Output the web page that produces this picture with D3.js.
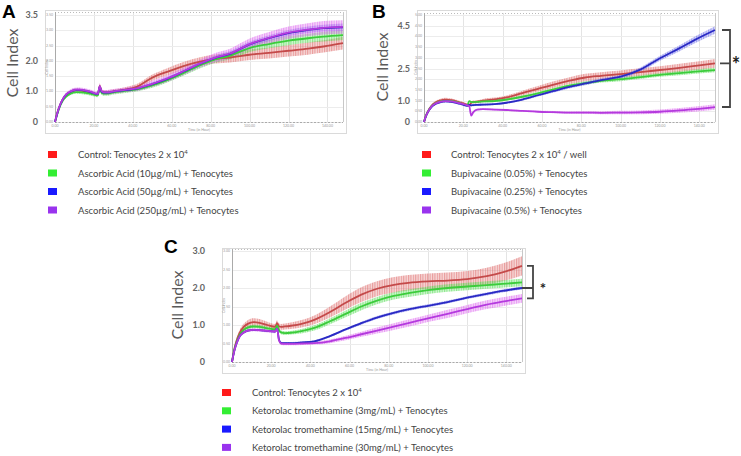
<!DOCTYPE html>
<meta charset="utf-8">
<head>
  <title>Cell index</title>
</head>
<style>
body { margin: 0; background: #fff; }
svg text { font-family: Lato, "Open Sans", sans-serif; }
.letter { font-family: "Liberation Sans", Arial, sans-serif; font-weight: bold; font-size: 19px; fill: #000; }
.ylab { font-size: 16px; fill: #5a5a5a; }
.big { font-size: 9px; font-weight: bold; fill: #666; }
.tiny { font-size: 3.5px; fill: #999; }
.leg { font-size: 9.5px; fill: #444; }
</style>
<body>
<svg width="741" height="456"></svg>
<script src="https://cdnjs.cloudflare.com/ajax/libs/d3/7.8.5/d3.min.js"></script>
<script>
// time points (hours)
var times = [0,1,2,4,6,8,11,14,18,22,23,24,25,27,30,36,42,50,58,66,74,82,90,100,110,120,130,138,148];

// panel A - ascorbic acid
var aControl = [0,0.26,0.46,0.74,0.9,0.98,1.04,1.02,0.97,0.9,1.18,1.0,0.97,0.97,1.0,1.06,1.15,1.45,1.65,1.83,1.97,2.06,2.11,2.2,2.26,2.33,2.4,2.47,2.58];
var aAsc10 = [0,0.22,0.42,0.7,0.85,0.93,0.98,0.97,0.93,0.87,1.1,0.95,0.93,0.93,0.97,1.02,1.07,1.2,1.38,1.6,1.84,2.04,2.17,2.42,2.55,2.66,2.74,2.79,2.84];
var aAsc50 = [0,0.24,0.45,0.74,0.91,0.99,1.05,1.04,0.98,0.91,1.16,0.99,0.96,0.96,0.99,1.04,1.09,1.24,1.42,1.65,1.89,2.09,2.23,2.54,2.74,2.91,3.01,3.07,3.1];
var aAsc250 = [0,0.25,0.46,0.75,0.92,1.0,1.06,1.05,0.99,0.92,1.17,1.0,0.97,0.97,1.0,1.05,1.1,1.25,1.43,1.66,1.9,2.1,2.24,2.55,2.75,2.92,3.02,3.08,3.11];
var aControlSd = [0,0.03,0.04,0.05,0.06,0.06,0.06,0.06,0.06,0.06,0.08,0.07,0.07,0.07,0.07,0.08,0.09,0.1,0.12,0.13,0.14,0.15,0.16,0.17,0.18,0.19,0.2,0.2,0.21];
var aAsc10Sd = [0,0.03,0.04,0.05,0.05,0.05,0.06,0.06,0.06,0.06,0.07,0.07,0.07,0.07,0.07,0.07,0.07,0.08,0.08,0.09,0.1,0.11,0.12,0.13,0.14,0.15,0.15,0.16,0.16];
var aAsc50Sd = [0,0.02,0.03,0.04,0.04,0.05,0.05,0.05,0.05,0.05,0.06,0.05,0.05,0.05,0.05,0.05,0.06,0.06,0.07,0.07,0.08,0.08,0.09,0.09,0.1,0.1,0.11,0.11,0.12];
var aAsc250Sd = [0,0.03,0.04,0.06,0.06,0.07,0.07,0.07,0.07,0.07,0.09,0.08,0.08,0.08,0.08,0.08,0.09,0.1,0.11,0.12,0.13,0.15,0.16,0.18,0.19,0.2,0.21,0.22,0.22];

// panel B - bupivacaine
var bControl = [0,0.3,0.5,0.78,0.92,1.0,1.05,1.02,0.92,0.8,0.76,0.9,0.93,0.95,1.0,1.06,1.15,1.35,1.55,1.75,1.93,2.08,2.16,2.24,2.33,2.43,2.53,2.62,2.74];
var bBup005 = [0,0.28,0.48,0.75,0.88,0.95,0.99,0.97,0.89,0.78,0.98,0.93,0.93,0.94,0.96,0.98,1.05,1.18,1.34,1.53,1.7,1.82,1.92,2.0,2.1,2.2,2.28,2.35,2.43];
var bBup025 = [0,0.27,0.46,0.72,0.85,0.92,0.96,0.94,0.86,0.76,0.8,0.78,0.79,0.8,0.81,0.84,0.9,1.05,1.25,1.45,1.64,1.8,1.96,2.12,2.45,2.98,3.45,3.85,4.3];
var bBup05 = [0,0.28,0.47,0.74,0.87,0.94,0.98,0.96,0.88,0.78,0.74,0.3,0.45,0.58,0.6,0.58,0.56,0.52,0.48,0.46,0.44,0.44,0.43,0.44,0.45,0.48,0.54,0.6,0.7];
var bControlSd = [0,0.03,0.05,0.06,0.07,0.08,0.08,0.08,0.07,0.06,0.06,0.07,0.07,0.07,0.08,0.08,0.09,0.11,0.13,0.15,0.16,0.17,0.17,0.17,0.18,0.18,0.19,0.19,0.2];
var bBup005Sd = [0,0.02,0.03,0.04,0.04,0.05,0.05,0.05,0.05,0.05,0.05,0.05,0.05,0.05,0.05,0.05,0.06,0.06,0.07,0.07,0.08,0.08,0.08,0.09,0.09,0.09,0.1,0.1,0.1];
var bBup025Sd = [0,0.02,0.03,0.04,0.04,0.05,0.05,0.05,0.05,0.05,0.05,0.05,0.05,0.05,0.05,0.05,0.05,0.06,0.06,0.07,0.07,0.08,0.08,0.09,0.1,0.12,0.14,0.16,0.18];
var bBup05Sd = [0,0.02,0.03,0.04,0.04,0.05,0.05,0.05,0.05,0.05,0.05,0.04,0.04,0.04,0.04,0.04,0.04,0.04,0.04,0.05,0.05,0.06,0.07,0.08,0.09,0.1,0.11,0.12,0.13];

// panel C - ketorolac
var cControl = [0,0.3,0.52,0.8,0.95,1.03,1.08,1.06,1.0,0.95,1.05,0.96,0.95,0.96,0.98,1.04,1.14,1.35,1.6,1.82,1.98,2.08,2.14,2.18,2.2,2.24,2.32,2.42,2.6];
var cKet3 = [0,0.28,0.48,0.74,0.87,0.93,0.96,0.95,0.91,0.88,0.98,0.86,0.8,0.78,0.79,0.84,0.92,1.1,1.3,1.5,1.66,1.78,1.86,1.94,2.0,2.04,2.08,2.11,2.15];
var cKet15 = [0,0.26,0.45,0.7,0.8,0.85,0.87,0.86,0.84,0.82,0.9,0.6,0.52,0.51,0.51,0.53,0.56,0.7,0.88,1.05,1.2,1.32,1.42,1.52,1.62,1.74,1.84,1.92,2.0];
var cKet30 = [0,0.26,0.45,0.7,0.8,0.85,0.87,0.86,0.84,0.82,0.9,0.58,0.5,0.49,0.49,0.5,0.51,0.56,0.65,0.75,0.85,0.95,1.05,1.18,1.3,1.43,1.55,1.63,1.72];
var cControlSd = [0,0.04,0.06,0.08,0.09,0.1,0.1,0.1,0.09,0.08,0.08,0.08,0.08,0.08,0.09,0.1,0.12,0.15,0.18,0.2,0.2,0.21,0.21,0.21,0.22,0.22,0.23,0.24,0.26];
var cKet3Sd = [0,0.02,0.03,0.04,0.05,0.05,0.05,0.05,0.05,0.05,0.05,0.05,0.05,0.05,0.05,0.06,0.07,0.08,0.09,0.1,0.1,0.1,0.1,0.1,0.1,0.1,0.1,0.1,0.1];
var cKet15Sd = [0,0.02,0.02,0.03,0.03,0.03,0.03,0.03,0.03,0.03,0.03,0.03,0.03,0.03,0.03,0.03,0.03,0.03,0.03,0.04,0.04,0.04,0.04,0.04,0.04,0.04,0.04,0.04,0.04];
var cKet30Sd = [0,0.02,0.03,0.04,0.04,0.04,0.04,0.04,0.04,0.04,0.04,0.04,0.04,0.04,0.04,0.04,0.04,0.05,0.06,0.07,0.08,0.09,0.1,0.1,0.11,0.11,0.12,0.12,0.12];

var legendA = ["Control: Tenocytes 2 x 10^4", "Ascorbic Acid (10µg/mL) + Tenocytes", "Ascorbic Acid (50µg/mL) + Tenocytes", "Ascorbic Acid (250µg/mL) + Tenocytes"];
var legendB = ["Control: Tenocytes 2 x 10^4 / well", "Bupivacaine (0.05%) + Tenocytes", "Bupivacaine (0.25%) + Tenocytes", "Bupivacaine (0.5%) + Tenocytes"];
var legendC = ["Control: Tenocytes 2 x 10^4", "Ketorolac tromethamine (3mg/mL) + Tenocytes", "Ketorolac tromethamine (15mg/mL) + Tenocytes", "Ketorolac tromethamine (30mg/mL) + Tenocytes"];

var xTicks = [0,20,40,60,80,100,120,140];
var lineColors = ["#c44a4a", "#3ccc3c", "#2a2ac4", "#b43ade"];
var bandColors = ["#de6a6a", "#55dd55", "#6a6ae8", "#dd66ee"];
var keyColors = ["#ff1a1a", "#33ee33", "#1a1aff", "#9933ee"];

var panels = [
  {letter: "A", lx: 2, ly: 18, frame: [45, 10, 301, 123], xr: [55, 343], yr: [122, 15], top: 12, yMax: 3.5,
   big: [3.5, 2, 1, 0], bigX: 38, labX: 13, labY: 63,
   series: [aControl, aAsc10, aAsc50, aAsc250], sds: [aControlSd, aAsc10Sd, aAsc50Sd, aAsc250Sd],
   legend: legendA, legSize: 9.5, keyX: 48, textX: 78, keyY: 155, keyStep: 18.5, bracket: null},
  {letter: "B", lx: 372, ly: 18, frame: [417, 10, 301, 123], xr: [424, 715], yr: [122, 15], top: 13, yMax: 5,
   big: [4.5, 2.5, 1, 0], bigX: 410, labX: 383, labY: 67,
   series: [bControl, bBup005, bBup025, bBup05], sds: [bControlSd, bBup005Sd, bBup025Sd, bBup05Sd],
   legend: legendB, legSize: 9.5, keyX: 422, textX: 451, keyY: 155, keyStep: 18.5,
   bracket: {top: 2, mid: 0, bot: 3, x0: 722, x1: 730, midX: 720, starX: 736, starSize: 20}},
  {letter: "C", lx: 164, ly: 253, frame: [222, 248, 303, 125], xr: [232, 522], yr: [362, 251], top: 249, yMax: 3,
   big: [3, 2, 1, 0], bigX: 205, labX: 178, labY: 305,
   series: [cControl, cKet3, cKet15, cKet30], sds: [cControlSd, cKet3Sd, cKet15Sd, cKet30Sd],
   legend: legendC, legSize: 10.3, keyX: 222, textX: 252, keyY: 393, keyStep: 18.3,
   bracket: {top: 0, mid: 2, bot: 3, x0: 527, x1: 533, midX: 522, starX: 543, starSize: 15}}
];

var svg = d3.select("svg");
var defs = svg.append("defs");

// hatch patterns imitate the dense error bars
bandColors.forEach(function(c, i) {
  var p = defs.append("pattern")
    .attr("id", "hatch" + i)
    .attr("patternUnits", "userSpaceOnUse")
    .attr("width", 2.4).attr("height", 4);
  p.append("rect").attr("width", 2.4).attr("height", 4).attr("fill", c).attr("opacity", 0.26);
  p.append("line").attr("x1", 0.6).attr("x2", 0.6).attr("y1", 0).attr("y2", 4)
    .attr("stroke", c).attr("stroke-width", 0.9).attr("opacity", 0.7);
});

panels.forEach(function(p) {
  var g = svg.append("g");
  var x = d3.scaleLinear().domain([0, 148]).range(p.xr);
  var y = d3.scaleLinear().domain([0, p.yMax]).range(p.yr);
  var yTicks = d3.range(0, p.yMax + 0.01, 0.5);

  g.append("text").attr("class", "letter").attr("x", p.lx).attr("y", p.ly).text(p.letter);

  // outer frame
  g.append("rect")
    .attr("x", p.frame[0] + 0.5).attr("y", p.frame[1] + 0.5)
    .attr("width", p.frame[2]).attr("height", p.frame[3])
    .attr("fill", "#fff").attr("stroke", "#dadada");

  // grid
  g.selectAll(".vg").data(xTicks).enter().append("line")
    .attr("x1", function(d) { return Math.round(x(d)) + 0.5; })
    .attr("x2", function(d) { return Math.round(x(d)) + 0.5; })
    .attr("y1", p.top).attr("y2", p.yr[0])
    .attr("stroke", "#e4e4e4");
  g.selectAll(".hg").data(yTicks).enter().append("line")
    .attr("x1", p.xr[0]).attr("x2", p.xr[1])
    .attr("y1", function(d) { return Math.round(y(d)) + 0.5; })
    .attr("y2", function(d) { return Math.round(y(d)) + 0.5; })
    .attr("stroke", "#ececec");

  // plot border with dotted ticks
  g.append("line").attr("x1", p.xr[0]).attr("x2", p.xr[1]).attr("y1", p.top + 0.5).attr("y2", p.top + 0.5)
    .attr("stroke", "#bbb").attr("stroke-dasharray", "1,2");
  g.append("line").attr("x1", p.xr[0]).attr("x2", p.xr[1]).attr("y1", p.yr[0] + 0.5).attr("y2", p.yr[0] + 0.5)
    .attr("stroke", "#aaa").attr("stroke-dasharray", "2,1.5");
  g.append("line").attr("x1", p.xr[0] + 0.5).attr("x2", p.xr[0] + 0.5).attr("y1", p.top).attr("y2", p.yr[0])
    .attr("stroke", "#aaa");
  g.append("line").attr("x1", p.xr[1] + 0.5).attr("x2", p.xr[1] + 0.5).attr("y1", p.top).attr("y2", p.yr[0])
    .attr("stroke", "#c8c8c8");

  // tiny instrument labels
  g.selectAll(".xt").data(xTicks).enter().append("text").attr("class", "tiny")
    .attr("x", function(d) { return x(d); }).attr("y", p.yr[0] + 5)
    .attr("text-anchor", "middle").text(function(d) { return d.toFixed(2); });
  g.selectAll(".yt").data(yTicks).enter().append("text").attr("class", "tiny")
    .attr("x", p.xr[0] - 2).attr("y", function(d) { return y(d) + 1; })
    .attr("text-anchor", "end").text(function(d) { return d.toFixed(2); });
  g.append("text").attr("class", "tiny").attr("x", (p.xr[0] + p.xr[1]) / 2).attr("y", p.yr[0] + 9)
    .attr("text-anchor", "middle").text("Time (in Hour)");
  g.append("text").attr("class", "tiny")
    .attr("transform", "translate(" + (p.xr[0] - 7) + "," + ((p.top + p.yr[0]) / 2) + ") rotate(-90)")
    .attr("text-anchor", "middle").text("Cell Index");

  // big y labels
  g.selectAll(".big").data(p.big).enter().append("text").attr("class", "big")
    .attr("x", p.bigX).attr("y", function(d) { return y(d) + 3; })
    .attr("text-anchor", "end")
    .text(function(d) { return d === 0 ? "0" : d.toFixed(1); });
  g.append("text").attr("class", "ylab")
    .attr("transform", "translate(" + (p.labX + 5) + "," + p.labY + ") rotate(-90)")
    .attr("text-anchor", "middle").text("Cell Index");

  // bands then lines
  var area = d3.area().curve(d3.curveMonotoneX)
    .x(function(d, i) { return x(times[i]); })
    .y0(function(d) { return y(d[0] - d[1]); })
    .y1(function(d) { return y(d[0] + d[1]); });
  var line = d3.line().curve(d3.curveMonotoneX)
    .x(function(d, i) { return x(times[i]); })
    .y(function(d) { return y(d); });

  p.series.forEach(function(s, k) {
    var pairs = s.map(function(v, i) { return [v, p.sds[k][i]]; });
    g.append("path").attr("d", area(pairs)).attr("fill", "url(#hatch" + k + ")");
  });
  p.series.forEach(function(s, k) {
    g.append("path").attr("d", line(s)).attr("fill", "none")
      .attr("stroke", lineColors[k]).attr("stroke-width", 1.8);
  });

  // legend
  p.legend.forEach(function(txt, k) {
    var cy = p.keyY + k * p.keyStep;
    g.append("rect").attr("x", p.keyX).attr("y", cy - 4).attr("width", 9).attr("height", 7)
      .attr("fill", keyColors[k]);
    var t = g.append("text").attr("class", "leg").attr("font-size", p.legSize + "px")
      .attr("x", p.textX).attr("y", cy + 3);
    var parts = txt.split("^4");
    t.append("tspan").text(parts[0]);
    if (parts.length > 1) {
      t.append("tspan").attr("font-size", "6px").attr("dy", -4).text("4");
      t.append("tspan").attr("dy", 4).text(parts[1]);
    }
  });

  // significance bracket
  if (p.bracket) {
    var b = p.bracket, last = times.length - 1;
    var yt = y(p.series[b.top][last]), ym = y(p.series[b.mid][last]), yb = y(p.series[b.bot][last]);
    g.append("path")
      .attr("d", "M" + b.x0 + "," + yt + "H" + b.x1 + "V" + yb + "H" + b.x0 + "M" + b.midX + "," + ym + "H" + b.x1)
      .attr("fill", "none").attr("stroke", "#444").attr("stroke-width", 1.8);
    g.append("text").attr("x", b.starX).attr("y", ym + b.starSize * 0.42)
      .attr("text-anchor", "middle").attr("font-size", b.starSize + "px").attr("font-weight", "bold")
      .attr("fill", "#222").text("*");
  }
});
</script>
</body>
</html>
